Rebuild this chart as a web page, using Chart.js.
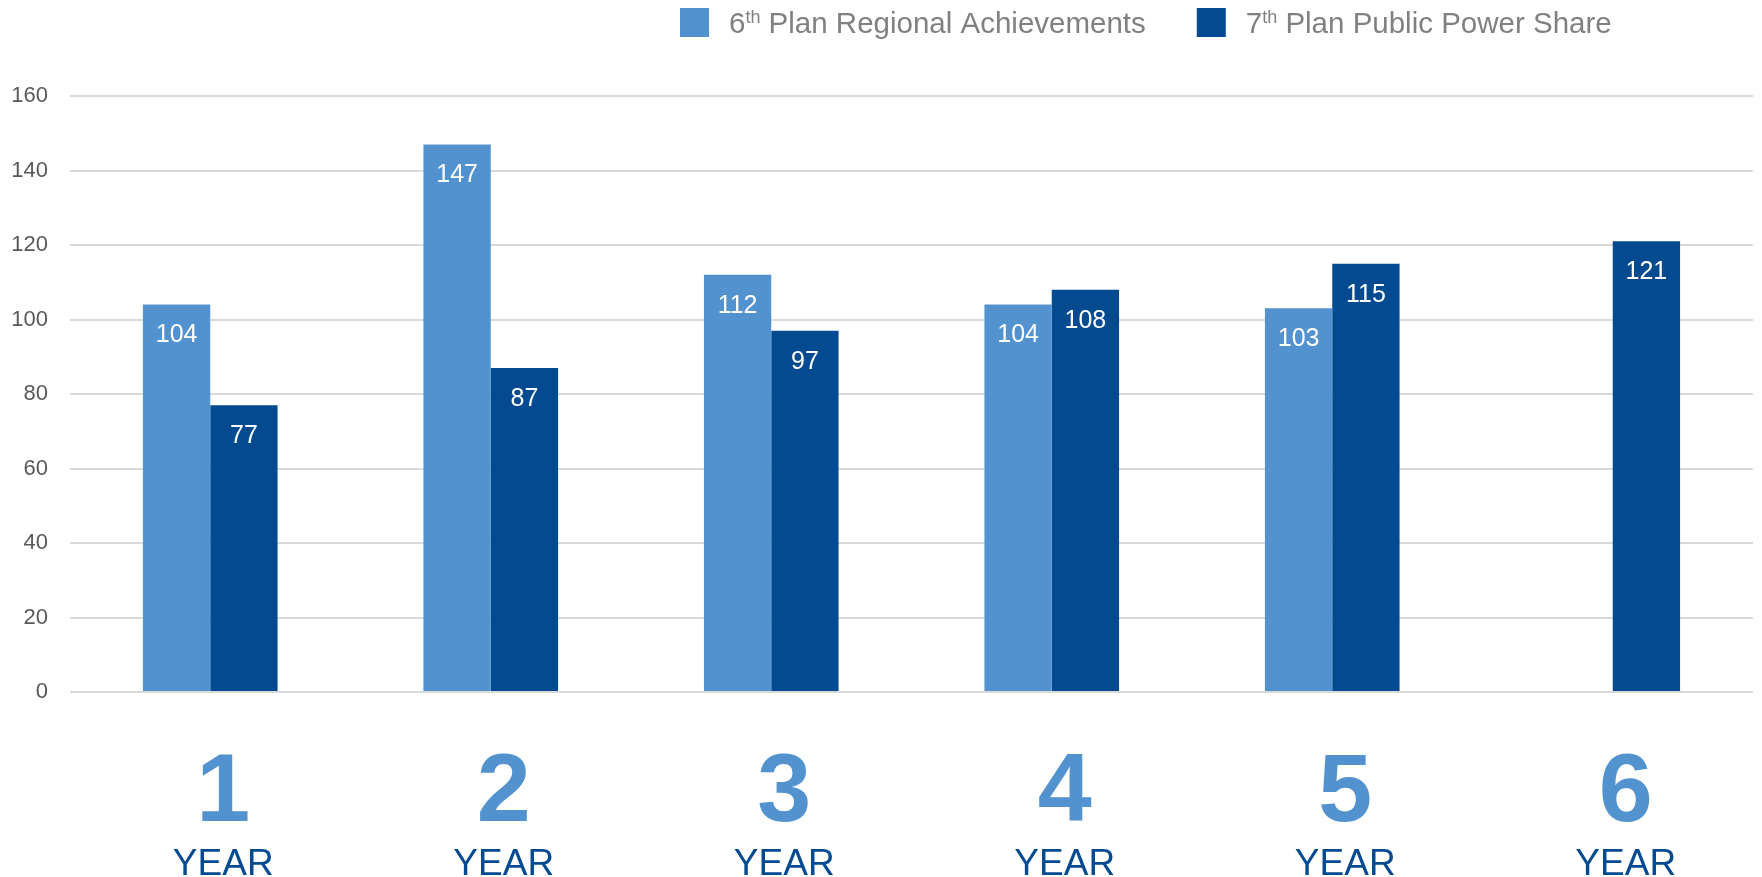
<!DOCTYPE html>
<html>
<head>
<meta charset="utf-8">
<script src="https://cdn.jsdelivr.net/npm/chart.js@4"></script>
<style>
  html, body { margin: 0; padding: 0; background: #fff; }
  #wrap { width: 1762px; height: 877px; }
</style>
</head>
<body>
<div id="wrap"><canvas id="barChart" width="1762" height="877"></canvas></div>
<script>
// data
const categories = ['1', '2', '3', '4', '5', '6'];
const yearLabels = ['YEAR', 'YEAR', 'YEAR', 'YEAR', 'YEAR', 'YEAR'];
const sixthPlan = [104, 147, 112, 104, 103, null];
const seventhPlan = [77, 87, 97, 108, 115, 121];
const seriesNames = ['6th Plan Regional Achievements', '7th Plan Public Power Share'];
const yTicks = [0, 20, 40, 60, 80, 100, 120, 140, 160];

const lightBlue = '#5292ce';
const darkBlue = '#034a91';
const fontName = "'Liberation Sans', Arial, sans-serif";

// white value labels inside the top of each bar
const valueLabels = {
  id: 'valueLabels',
  afterDatasetsDraw(chart) {
    const ctx = chart.ctx;
    ctx.save();
    ctx.fillStyle = '#ffffff';
    ctx.font = '25px ' + fontName;
    ctx.textAlign = 'center';
    ctx.textBaseline = 'middle';
    chart.data.datasets.forEach((ds, i) => {
      chart.getDatasetMeta(i).data.forEach((bar, j) => {
        if (ds.data[j] == null) return;
        ctx.fillText(ds.data[j], bar.x, bar.y + 31);
      });
    });
    ctx.restore();
  }
};

// legend with superscript "th"
const supLegend = {
  id: 'supLegend',
  afterDraw(chart) {
    const ctx = chart.ctx;
    ctx.save();
    ctx.textBaseline = 'alphabetic';
    ctx.textAlign = 'left';
    let x = 680;
    const boxTop = 8, box = 29, base = 33;
    chart.data.datasets.forEach((ds, i) => {
      ctx.fillStyle = ds.backgroundColor;
      ctx.fillRect(x, boxTop, box, box);
      x += box + 20;
      const m = ds.label.match(/^(\d+)(th)(.*)$/);
      ctx.fillStyle = '#808080';
      ctx.font = '29.5px ' + fontName;
      ctx.fillText(m[1], x, base);
      x += ctx.measureText(m[1]).width;
      ctx.font = '18px ' + fontName;
      ctx.fillText(m[2], x, base - 10);
      x += ctx.measureText(m[2]).width;
      ctx.font = '29.5px ' + fontName;
      ctx.fillText(m[3], x, base);
      x += ctx.measureText(m[3]).width + 51;
    });
    ctx.restore();
  }
};

const ctl = document.getElementById('barChart').getContext('2d');

const barChart = new Chart(ctl, {
  type: 'bar',
  data: {
    labels: categories,
    datasets: [{
      label: seriesNames[0],
      data: sixthPlan,
      backgroundColor: lightBlue,
      borderWidth: 0
    }, {
      label: seriesNames[1],
      data: seventhPlan,
      backgroundColor: darkBlue,
      borderWidth: 0
    }]
  },
  options: {
    responsive: false,
    animation: false,
    devicePixelRatio: 1,
    categoryPercentage: 0.48,
    barPercentage: 1,
    layout: { padding: { top: 96, right: 9, left: 0, bottom: 0 } },
    plugins: {
      legend: { display: false },
      tooltip: { enabled: false }
    },
    scales: {
      y: {
        min: 0,
        max: 160,
        afterBuildTicks(scale) { scale.ticks = yTicks.map(v => ({ value: v })); },
        afterFit(scale) { scale.width = 70; },
        grid: { color: '#d9d9d9', lineWidth: 2, drawTicks: false },
        border: { display: false },
        ticks: {
          color: '#595959',
          padding: 22,
          font: { family: fontName, size: 22 }
        }
      },
      x: {
        position: 'bottom',
        weight: 0,
        afterFit(scale) { scale.height = 150; },
        grid: { display: false, drawTicks: false },
        border: { display: false },
        ticks: {
          color: lightBlue,
          padding: 54,
          labelOffset: 13,
          maxRotation: 0,
          autoSkip: false,
          font: { family: fontName, size: 97, weight: 'bold', lineHeight: 1 }
        }
      },
      x2: {
        type: 'category',
        labels: yearLabels,
        position: 'bottom',
        weight: 1,
        offset: true,
        afterFit(scale) { scale.height = 35; },
        grid: { display: false, drawTicks: false },
        border: { display: false },
        ticks: {
          color: darkBlue,
          padding: 4,
          labelOffset: 13,
          maxRotation: 0,
          autoSkip: false,
          font: { family: fontName, size: 37, lineHeight: 1 }
        }
      }
    }
  },
  plugins: [valueLabels, supLegend]
});
</script>
</body>
</html>
